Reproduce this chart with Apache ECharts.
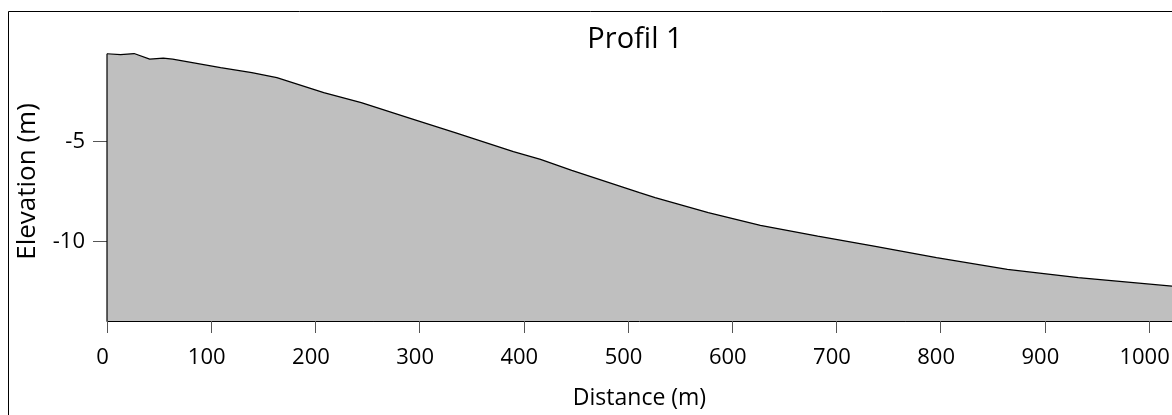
<!DOCTYPE html>
<html>
<head>
<meta charset="utf-8">
<script src="https://cdn.jsdelivr.net/npm/echarts@6/dist/echarts.min.js"></script>
<style>
html,body{margin:0;padding:0;background:#fff;}
#chart{width:1172px;height:415px;}
</style>
</head>
<body>
<div id="chart"></div>
<script>
const titleText = 'Profil 1';
const xName = 'Distance (m)';
const yName = 'Elevation (m)';
const distance = [0, 13, 26, 41, 54, 63, 109, 139, 163, 208, 244, 291, 334, 390, 416, 446, 511, 526, 577, 627, 682, 736, 796, 864, 932, 1022];
const elevation = [-0.59, -0.63, -0.58, -0.86, -0.81, -0.86, -1.29, -1.54, -1.79, -2.54, -3.04, -3.83, -4.55, -5.50, -5.89, -6.44, -7.56, -7.81, -8.56, -9.20, -9.74, -10.24, -10.82, -11.41, -11.82, -12.25];
const xTicks = [0, 100, 200, 300, 400, 500, 600, 700, 800, 900, 1000];
const yTicks = [-10, -5];
const xMin = 0, xMax = 1022, yMin = -14, yMax = 0;

const FONT = 'Open Sans';
const profile = distance.map((d, i) => [d, elevation[i]]);
const edge = [[distance[0], yMin], [distance[0], elevation[0]]];

const chart = echarts.init(document.getElementById('chart'), null, {renderer: 'canvas'});
chart.setOption({
  animation: false,
  backgroundColor: '#ffffff',
  grid: {left: 107, right: 0, top: 42, bottom: 94, containLabel: false, outerBoundsMode: 'none'},
  graphic: [
    {type: 'rect', shape: {x: 8.5, y: 11.5, width: 1400, height: 800}, style: {fill: 'none', stroke: '#000', lineWidth: 1}, silent: true, z: 100},
    {type: 'text', x: 635, y: 40, style: {text: titleText, fontFamily: FONT, fontSize: 29, fill: '#000', align: 'center', verticalAlign: 'middle'}}
  ],
  xAxis: {
    type: 'value', min: xMin, max: xMax,
    name: xName, nameLocation: 'middle', nameGap: 66,
    nameTextStyle: {fontFamily: FONT, fontSize: 23, color: '#000'},
    axisLine: {show: true, onZero: false, lineStyle: {color: '#000', width: 1}},
    axisTick: {show: true, length: 12, customValues: xTicks, lineStyle: {color: '#555', width: 1}},
    axisLabel: {show: true, customValues: xTicks, margin: 26, fontFamily: FONT, fontSize: 22, color: '#000', padding: [0, 9, 0, 0], formatter: v => String(v)},
    splitLine: {show: false}
  },
  yAxis: {
    type: 'value', min: yMin, max: yMax,
    name: yName, nameLocation: 'middle', nameRotate: 90, nameGap: 66,
    nameTextStyle: {fontFamily: FONT, fontSize: 26, color: '#000'},
    axisLine: {show: false},
    axisTick: {show: true, length: 14, customValues: yTicks, lineStyle: {color: '#555', width: 1}},
    axisLabel: {show: true, customValues: yTicks, margin: 22, fontFamily: FONT, fontSize: 22, color: '#000', formatter: v => String(v)},
    splitLine: {show: false}
  },
  series: [
    {
      type: 'line', data: profile, showSymbol: false, smooth: false,
      lineStyle: {color: '#000', width: 1.2},
      areaStyle: {color: '#bfbfbf', opacity: 1, origin: 'start'},
      z: 2
    },
    {
      type: 'line', data: edge, showSymbol: false,
      lineStyle: {color: '#000', width: 1.2}, z: 3
    }
  ]
});
</script>
</body>
</html>
